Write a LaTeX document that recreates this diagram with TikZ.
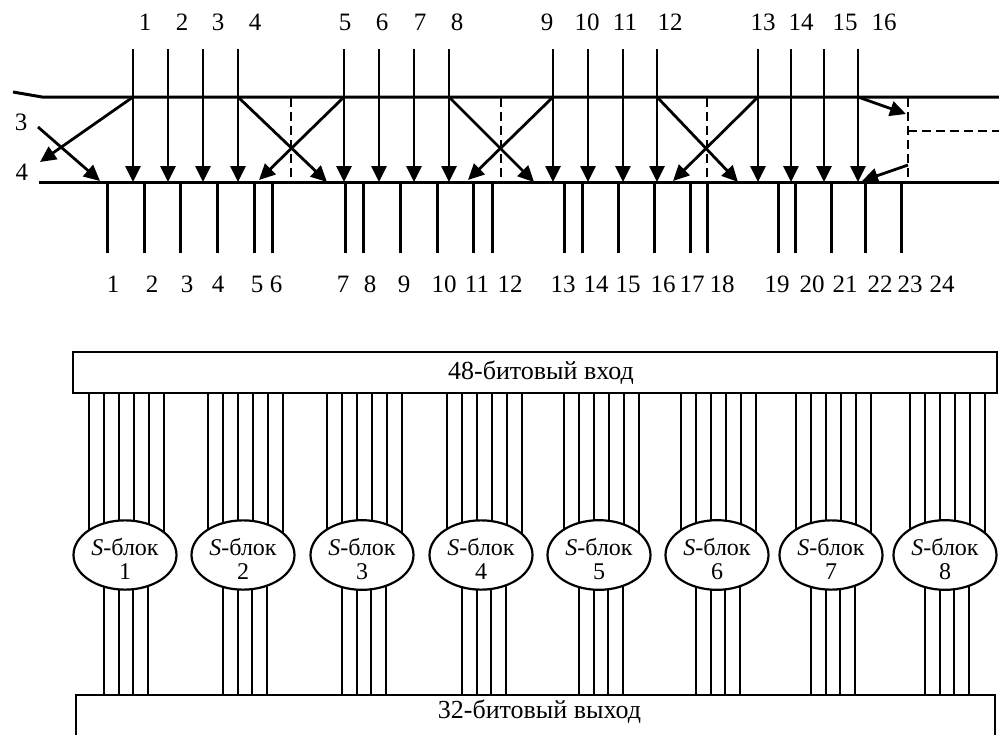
\documentclass[tikz,border=0pt]{standalone}
\usepackage{fontspec}
\setmainfont{Liberation Serif}
\usetikzlibrary{arrows.meta,shapes.geometric,backgrounds}
\begin{document}
\begin{tikzpicture}[x=1pt,y=-1pt,
  bus/.style={line width=3pt},
  arr/.style={line width=2.8pt,-{Triangle[length=16pt,width=15pt]}},
  dsh/.style={line width=2.6pt,dash pattern=on 9pt off 5pt},
  lbl/.style={font=\fontsize{25}{28}\selectfont, inner sep=0pt},
  wire/.style={line width=2pt},
  sbox/.style={ellipse, draw, line width=2.2pt, fill=white, minimum width=103pt, minimum height=64pt, inner sep=0pt, align=center, font=\fontsize{24}{25}\selectfont},
  bar/.style={draw, line width=2.2pt, inner xsep=0pt, font=\fontsize{26}{28}\selectfont}
]
\useasboundingbox (0,0) rectangle (999,734);
\begin{pgfonlayer}{background}
  \fill[white] (0,0) rectangle (999,734);
\end{pgfonlayer}

% main rails
\coordinate (ul0) at (13,92);
\coordinate (ul1) at (42,97);
\coordinate (ulE) at (999,97);
\coordinate (ll0) at (39,182);
\coordinate (llE) at (999,182);
\draw[bus] (ul0) -- (ul1) -- (ulE);
\draw[bus] (ll0) -- (llE);

% input arrows and labels
\foreach \x [count=\i] in {133,168,203,238,344,379,414,449,553,588,623,657,758,791,824,858} {
  \coordinate (t\i) at (\x,49);
  \coordinate (u\i) at (\x,97);
  \coordinate (b\i) at (\x,182);
  \draw[arr] (t\i) -- (b\i);
}
\foreach \x [count=\i] in {145,182,218,255,345,382,420,457,547,587,625,670,763,801,845,884}
  \node[lbl] (in\i) at (\x,22.5) {\i};

% output wires and labels
\foreach \x [count=\i] in {107,144,180,217,254,272,345,363,400,437,473,492,564,582,618,654,690,707,778,795,831,865,901} {
  \coordinate (os\i) at (\x,182);
  \coordinate (oe\i) at (\x,253);
  \draw[bus] (os\i) -- (oe\i);
}
\foreach \x [count=\i] in {113,152,187,218,257,276,343,370,404,444,477,510,563,596,628,663,692,722,777,812,845,880,910,942}
  \node[lbl] (out\i) at (\x,284) {\i};

% side labels
\node[lbl] (l3) at (21,122) {3};
\node[lbl] (l4) at (22,172) {4};

% diagonal (duplicated) connections
\coordinate (d1) at (40,162);
\coordinate (s2) at (38,127);
\coordinate (d2) at (100,181);
\coordinate (d3) at (327,182);
\coordinate (d4) at (259,180);
\coordinate (d5) at (534,182);
\coordinate (d6) at (468,180);
\coordinate (d7) at (738,182);
\coordinate (d8) at (673,181);
\coordinate (d9) at (906,114);
\coordinate (s10) at (908,165);
\coordinate (d10) at (862,181);
\draw[arr] (u1) -- (d1);
\draw[arr] (s2) -- (d2);
\draw[arr] (u4) -- (d3);
\draw[arr] (u5) -- (d4);
\draw[arr] (u8) -- (d5);
\draw[arr] (u9) -- (d6);
\draw[arr] (u12) -- (d7);
\draw[arr] (u13) -- (d8);
\draw[arr] (u16) -- (d9);
\draw[arr] (s10) -- (d10);

% dashed separators
\foreach \x [count=\i] in {291,501,707,908} {
  \coordinate (ds\i) at (\x,98);
  \coordinate (de\i) at (\x,181);
  \draw[dsh] (ds\i) -- (de\i);
}
\coordinate (hs) at (908,131);
\coordinate (he) at (999,131);
\draw[dsh] (hs) -- (he);

% S-box stage
\node[bar, minimum width=924pt, minimum height=41pt] (inbox) at (535,372.5) {\hspace*{12pt}48-битовый вход};
\node[bar, anchor=north, minimum width=919pt, text height=15pt, text depth=34pt, inner ysep=8pt] (outbox) at (535.5,694) {\hspace*{8pt}32-битовый выход};

\foreach \c/\g [count=\k] in {125/126,243/245,362/364,481/484,599/601,717/718,831/833,945/947} {
  \node[sbox] (sb\k) at (\c,555) {\rule{0pt}{25pt}\textit{S}-блок\\[-1pt]\k};
  \begin{pgfonlayer}{background}
    \foreach \d in {-37.5,-22.5,-7.5,7.5,22.5,37.5} {
      \pgfmathsetmacro{\sh}{\g-\c+\d}
      \path ([xshift=\sh pt]sb\k.center) coordinate (w);
      \draw[wire] (inbox.south -| w) -- (w);
    }
    \foreach \d in {-22,-7.3,7.4,22} {
      \pgfmathsetmacro{\sh}{\g-\c+\d}
      \path ([xshift=\sh pt]sb\k.center) coordinate (w);
      \draw[wire] (w) -- (outbox.north -| w);
    }
  \end{pgfonlayer}
}
\end{tikzpicture}
\end{document}
